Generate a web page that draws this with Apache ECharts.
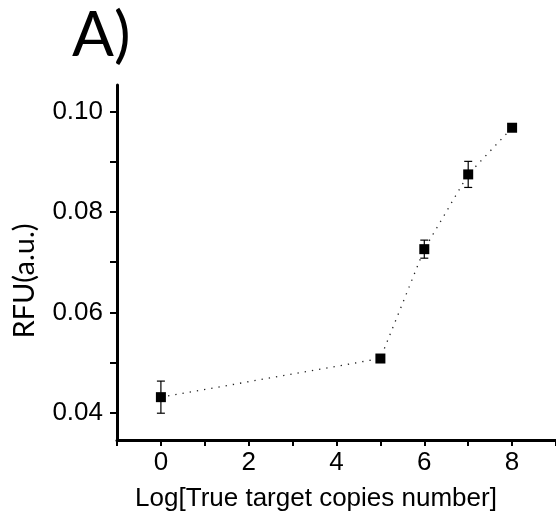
<!DOCTYPE html>
<html>
<head>
<meta charset="utf-8">
<script src="https://cdn.jsdelivr.net/npm/echarts@6/dist/echarts.min.js"></script>
<style>html,body{margin:0;padding:0;background:#fff;}#main{width:556px;height:519px;}</style>
</head>
<body>
<div id="main"></div>
<script>
// Data
const xValues = [0, 5, 6, 7, 8];
const yMeans = [0.0431, 0.0508, 0.0726, 0.0875, 0.0968];
const yErrors = [0.0032, 0.0004, 0.0018, 0.0026, 0.0003];
const xTickLabels = [0, 2, 4, 6, 8];
const yTickValues = [0.04, 0.05, 0.06, 0.07, 0.08, 0.09, 0.10];
const yTickLabels = [0.04, 0.06, 0.08, 0.10];
const panelLabel = 'A)';
const xTitle = 'Log[True target copies number]';
const yTitle = 'RFU(a.u.)';

const points = xValues.map((x, i) => [x, yMeans[i]]);
const errData = xValues.map((x, i) => [x, yMeans[i] - yErrors[i], yMeans[i] + yErrors[i]]);

const chart = echarts.init(document.getElementById('main'));
chart.setOption({
  animation: false,
  backgroundColor: '#fff',
  grid: { left: 117, top: 85, width: 440, height: 355, containLabel: false },
  xAxis: {
    type: 'value', min: -1, max: 9, interval: 1,
    splitLine: { show: false },
    axisLine: { show: true, onZero: false, lineStyle: { color: '#000', width: 3 } },
    axisTick: { show: true, length: 6, lineStyle: { color: '#000', width: 2 } },
    axisLabel: { customValues: xTickLabels, margin: 10, color: '#000', fontSize: 26, fontFamily: 'Liberation Sans' }
  },
  yAxis: {
    type: 'value', min: 0.03456, max: 0.10532,
    splitLine: { show: false },
    axisLine: { show: true, onZero: false, lineStyle: { color: '#000', width: 3 } },
    axisTick: { show: true, customValues: yTickValues, length: 7, lineStyle: { color: '#000', width: 2 } },
    axisLabel: { customValues: yTickLabels, margin: 14, color: '#000', fontSize: 26, fontFamily: 'Liberation Sans',
      formatter: v => v.toFixed(2) }
  },
  graphic: [
    { type: 'text', left: 72, top: 5, style: { text: panelLabel, font: '62px Lato', fill: '#000' } },
    { type: 'text', x: 316, y: 499, style: { text: xTitle, font: '26px "Liberation Sans"', fill: '#000', textAlign: 'center', textVerticalAlign: 'middle' } },
    { type: 'text', x: 25, y: 281, rotation: Math.PI / 2, style: { text: yTitle, font: '29px Lato', fill: '#000', textAlign: 'center', textVerticalAlign: 'middle' } }
  ],
  series: [
    {
      type: 'custom', z: 3,
      renderItem: function (params, api) {
        const x = api.value(0);
        const lo = api.coord([x, api.value(1)]);
        const hi = api.coord([x, api.value(2)]);
        const w = 4;
        const st = { stroke: '#000', lineWidth: 1.2 };
        return { type: 'group', children: [
          { type: 'line', shape: { x1: lo[0], y1: lo[1], x2: hi[0], y2: hi[1] }, style: st },
          { type: 'line', shape: { x1: lo[0] - w, y1: lo[1], x2: lo[0] + w, y2: lo[1] }, style: st },
          { type: 'line', shape: { x1: hi[0] - w, y1: hi[1], x2: hi[0] + w, y2: hi[1] }, style: st }
        ] };
      },
      encode: { x: 0, y: [1, 2] },
      data: errData
    },
    {
      type: 'line', z: 4,
      data: points,
      symbol: 'rect', symbolSize: 10,
      itemStyle: { color: '#000' },
      lineStyle: { color: '#222', width: 1.3, type: [1.3, 6] }
    }
  ]
});
</script>
</body>
</html>
